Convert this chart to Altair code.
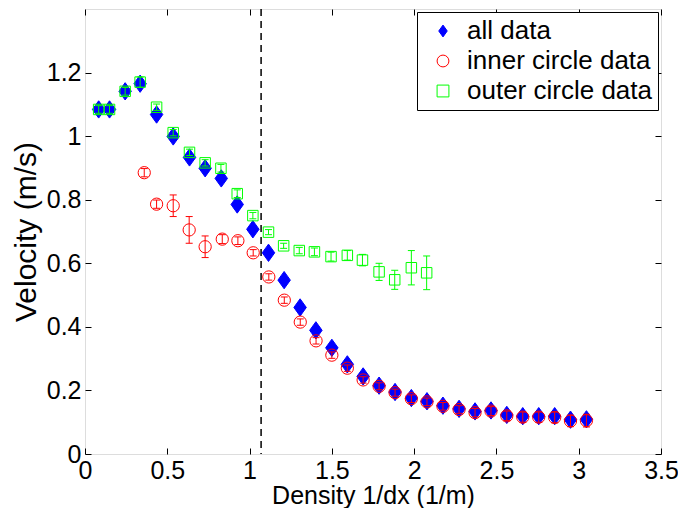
import altair as alt
import pandas as pd

# ---------------- data ----------------
all_x = [0.083, 0.149, 0.244, 0.335, 0.435, 0.536, 0.635, 0.73, 0.828, 0.925, 1.02,
         1.115, 1.21, 1.307, 1.403, 1.5, 1.594, 1.69, 1.787, 1.884, 1.983, 2.078,
         2.175, 2.273, 2.37, 2.467, 2.563, 2.66, 2.757, 2.854, 2.95, 3.047]
all_v = [1.084, 1.084, 1.141, 1.165, 1.068, 0.999, 0.933, 0.899, 0.867, 0.785, 0.707,
         0.633, 0.547, 0.461, 0.389, 0.334, 0.282, 0.244, 0.215, 0.195, 0.176, 0.166,
         0.152, 0.142, 0.134, 0.137, 0.123, 0.119, 0.119, 0.119, 0.108, 0.109]
all_err = [0.012, 0.012, 0.011, 0.012, 0.010, 0.010, 0.010, 0.010, 0.010, 0.010, 0.009,
           0.009, 0.008, 0.008, 0.008, 0.008, 0.008, 0.008, 0.008, 0.008, 0.008, 0.008,
           0.008, 0.008, 0.008, 0.009, 0.009, 0.010, 0.010, 0.010, 0.011, 0.012]

inner_x = [0.36, 0.435, 0.536, 0.633, 0.73, 0.834, 0.929, 1.022, 1.117, 1.211, 1.308,
           1.404, 1.5, 1.594, 1.69, 1.787, 1.884, 1.983, 2.078, 2.175, 2.273, 2.37,
           2.467, 2.563, 2.66, 2.757, 2.854, 2.95, 3.047]
inner_v = [0.885, 0.786, 0.781, 0.705, 0.652, 0.676, 0.671, 0.633, 0.557, 0.484, 0.415,
           0.356, 0.311, 0.270, 0.233, 0.213, 0.193, 0.174, 0.164, 0.150, 0.140, 0.130,
           0.135, 0.120, 0.116, 0.116, 0.115, 0.104, 0.105]
inner_err = [0.013, 0.013, 0.034, 0.042, 0.034, 0.014, 0.012, 0.010, 0.010, 0.010, 0.010,
             0.010, 0.010, 0.010, 0.010, 0.011, 0.011, 0.012, 0.012, 0.012, 0.012, 0.013,
             0.014, 0.015, 0.016, 0.016, 0.017, 0.018, 0.020]

outer_x = [0.083, 0.149, 0.244, 0.335, 0.435, 0.536, 0.635, 0.73, 0.826, 0.925, 1.02,
           1.115, 1.207, 1.302, 1.394, 1.495, 1.594, 1.686, 1.787, 1.882, 1.983, 2.076]
outer_v = [1.084, 1.084, 1.141, 1.170, 1.091, 1.011, 0.949, 0.916, 0.899, 0.819, 0.750,
           0.698, 0.655, 0.640, 0.636, 0.621, 0.625, 0.610, 0.573, 0.548, 0.586, 0.570]
outer_err = [0.012, 0.012, 0.012, 0.016, 0.010, 0.010, 0.010, 0.010, 0.012, 0.012, 0.010,
             0.008, 0.008, 0.010, 0.012, 0.014, 0.015, 0.018, 0.027, 0.030, 0.054, 0.053]

dash_x = [1.07]

SERIES = ["all data", "inner circle data", "outer circle data"]
x_ticks = [0, 0.5, 1, 1.5, 2, 2.5, 3, 3.5]
y_ticks = [0, 0.2, 0.4, 0.6, 0.8, 1.0, 1.2]

# ---------------- styling ----------------
FONT = "Liberation Sans"
COLORS = ["#0000ff", "#ff0000", "#00ff00"]
FILLS = ["#0000ff", "transparent", "transparent"]
DIAMOND = "M0,-1L0.72,0L0,1L-0.72,0Z"
SHAPES = [DIAMOND, "circle", "square"]
SIZES = [300, 150, 110]

W, H = 576, 445

xs = alt.Scale(domain=[0, 3.5], nice=False, zero=False)
ys = alt.Scale(domain=[0, 1.4], nice=False, zero=False)

common_axis = dict(tickSize=6, offset=-6, domain=False, grid=False, tickColor="black",
                   tickWidth=1, labelColor="black", titleColor="black", labelFont=FONT,
                   titleFont=FONT, labelFontSize=25,
                   titleFontWeight="normal", labelFlush=False, labelOverlap=False,
                   format="~g")

X_AX = alt.Axis(orient="bottom", values=x_ticks, labelPadding=4, title="Density 1/dx (1/m)",
                titleFontSize=25, titleBaseline="alphabetic", titleY=55.5, **common_axis)
Y_AX = alt.Axis(orient="left", values=y_ticks, labelPadding=4, title="Velocity (m/s)",
                titleFontSize=30, titlePadding=5, **common_axis)
X_TOP = alt.Axis(orient="top", values=x_ticks, labels=False, title=None, **common_axis)
Y_RIGHT = alt.Axis(orient="right", values=y_ticks, labels=False, title=None, **common_axis)

LEG = alt.Legend(title=None, orient="none", legendX=332, legendY=3, strokeColor="black",
                 fillColor="white", padding=6, labelFont=FONT, labelFontSize=26,
                 labelColor="black", symbolSize=140, symbolOffset=7, labelOffset=11,
                 rowPadding=4, labelLimit=0, symbolStrokeWidth=1, direction="vertical",
                 columns=1)

stroke_enc = alt.Stroke("series:N", scale=alt.Scale(domain=SERIES, range=COLORS), legend=LEG)
fill_enc = alt.Fill("series:N", scale=alt.Scale(domain=SERIES, range=FILLS), legend=LEG)
shape_enc = alt.Shape("series:N", scale=alt.Scale(domain=SERIES, range=SHAPES), legend=LEG)


def frame(xv, vv, ev, name):
    return pd.DataFrame({"x": xv, "v": vv, "err": ev, "series": name})


def series_layers(df, size, main_axes=False, right_axis=False):
    xa = X_AX if main_axes else None
    ya = Y_AX if main_axes else None
    base = alt.Chart(df).transform_calculate(lo="datum.v - datum.err", hi="datum.v + datum.err")
    pts = base.mark_point(opacity=1, strokeWidth=1).encode(
        x=alt.X("x:Q", scale=xs, axis=xa),
        y=alt.Y("v:Q", scale=ys, axis=ya),
        stroke=stroke_enc, fill=fill_enc, shape=shape_enc,
        size=alt.value(size),
    )
    bars = base.mark_rule(strokeWidth=1).encode(
        x=alt.X("x:Q", scale=xs, axis=None),
        y=alt.Y("lo:Q", scale=ys, axis=Y_RIGHT if right_axis else None),
        y2="hi:Q",
        stroke=stroke_enc,
    )
    caps = base.transform_fold(["lo", "hi"], as_=["k", "cv"]).mark_point(
        shape="M-1,0L1,0", strokeWidth=1, opacity=1, filled=False
    ).encode(
        x=alt.X("x:Q", scale=xs, axis=None),
        y=alt.Y("cv:Q", scale=ys, axis=None),
        stroke=stroke_enc,
        size=alt.value(49),
    )
    return [pts, bars, caps]


df_all = frame(all_x, all_v, all_err, SERIES[0])
df_in = frame(inner_x, inner_v, inner_err, SERIES[1])
df_out = frame(outer_x, outer_v, outer_err, SERIES[2])

dash = alt.Chart(pd.DataFrame({"x": dash_x})).mark_rule(
    color="black", strokeWidth=1.5, strokeDash=[7, 5]
).encode(x=alt.X("x:Q", scale=xs, axis=X_TOP))

layers = (series_layers(df_all, SIZES[0], main_axes=True, right_axis=True)
          + series_layers(df_in, SIZES[1]) + series_layers(df_out, SIZES[2]) + [dash])

chart = alt.layer(*layers).resolve_axis(x="independent", y="independent").properties(
    width=W, height=H,
    autosize=alt.AutoSizeParams(type="none"),
    padding={"left": 77, "top": 1, "right": 17, "bottom": 54},
).configure_view(stroke="black", strokeWidth=1).configure(background="white")

chart.save("out.html", embed_options={"renderer": "svg", "actions": False})
